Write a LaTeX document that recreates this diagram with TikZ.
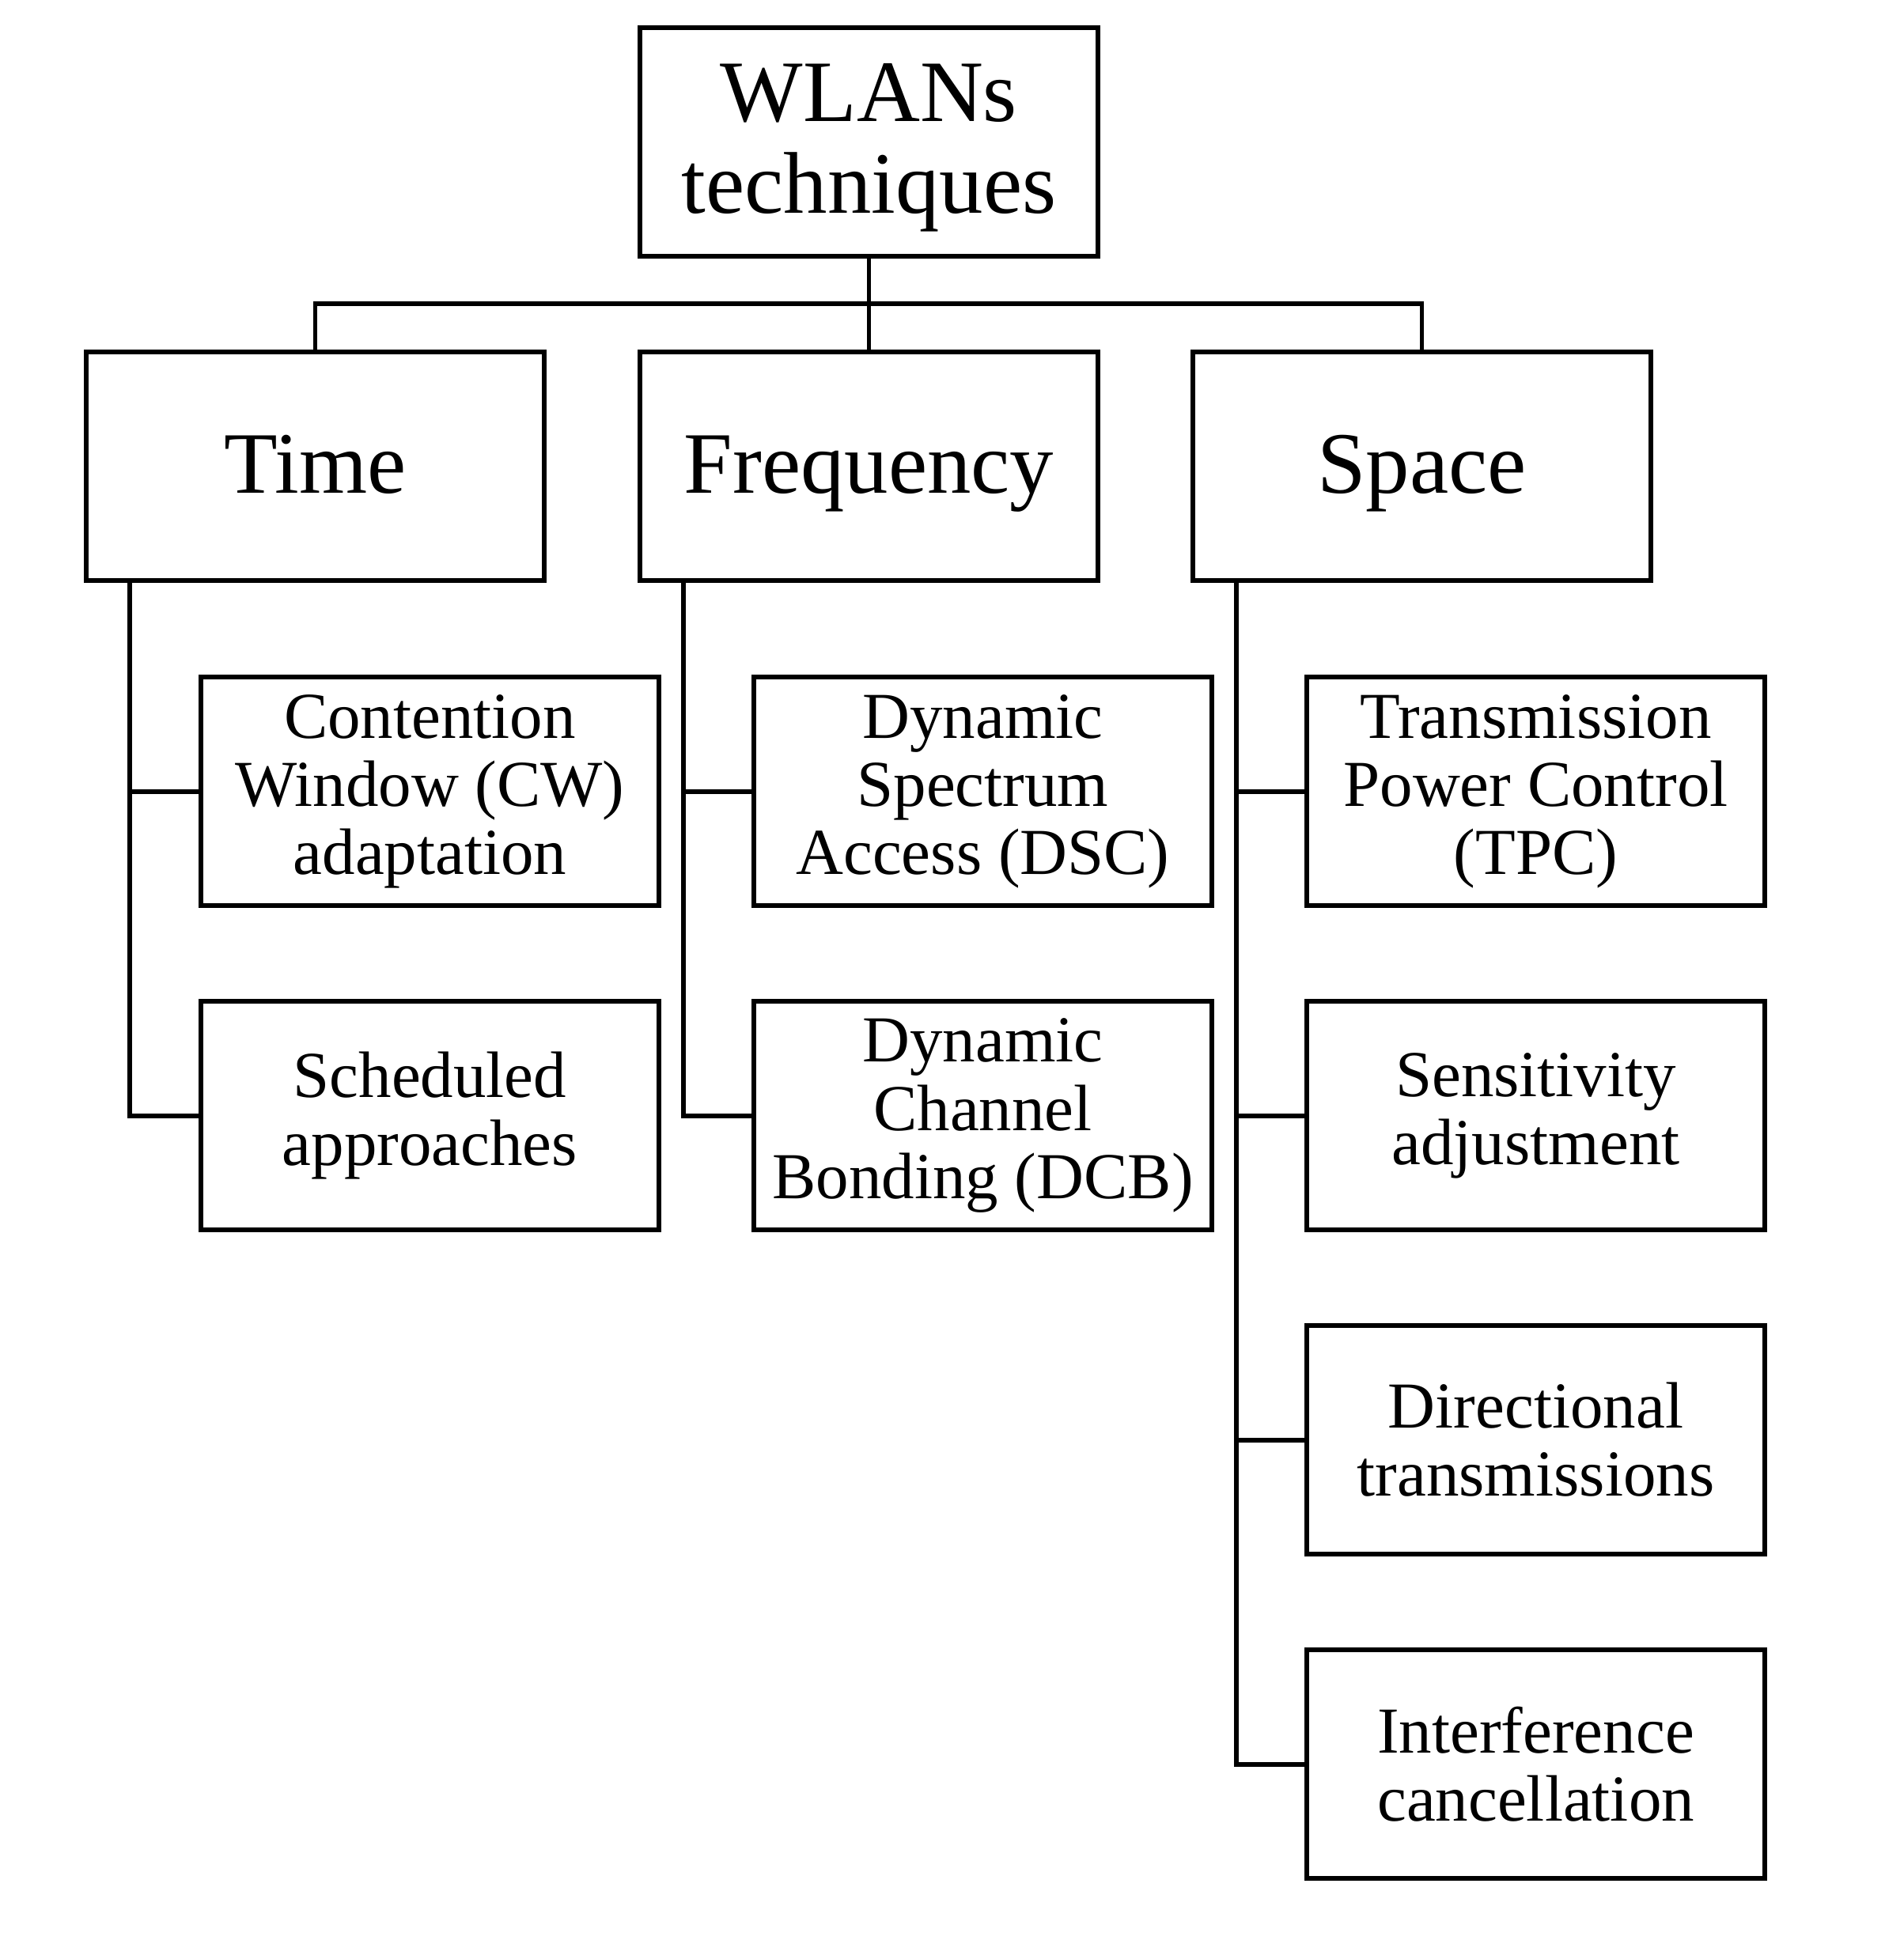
\documentclass[tikz,border=0pt]{standalone}
\usepackage{fontspec}
\setmainfont{Liberation Serif}
\usetikzlibrary{calc}

\begin{document}
\begin{tikzpicture}[line width=1.7pt,
    box/.style={draw,rectangle,inner sep=0,minimum width=5.79cm,minimum height=2.89cm,align=center},
    bigbox/.style={box,font=\fontsize{31.5}{33}\selectfont},
    lvlbox/.style={bigbox,text height=0.9cm,text depth=0.22cm},
    smallbox/.style={box,font=\fontsize{23.6}{24.5}\selectfont}]
    \useasboundingbox (0,0) rectangle (24.07,-24.58);
    % root and the three domains
    \path (10.985,-1.79) node [bigbox,text depth=0.08cm](wlan){WLANs\\techniques};
    \path (3.985,-5.895) node [lvlbox](time){Time};
    \path (10.985,-5.895) node [lvlbox](freq){Frequency};
    \path (17.975,-5.895) node [lvlbox](space){Space};
    % techniques per domain
    \path (5.435,-10.005) node [smallbox](cw){Contention\\Window (CW)\\adaptation};
    \path (5.435,-14.105) node [smallbox](sched){Scheduled\\approaches};
    \path (12.425,-10.005) node [smallbox](dsa){Dynamic\\Spectrum\\Access (DSC)};
    \path (12.425,-14.105) node [smallbox](dcb){Dynamic\\Channel\\Bonding (DCB)};
    \path (19.415,-10.005) node [smallbox](tpc){Transmission\\Power Control\\(TPC)};
    \path (19.415,-14.105) node [smallbox](sens){Sensitivity\\adjustment};
    \path (19.415,-18.205) node [smallbox](dir){Directional\\transmissions};
    \path (19.415,-22.305) node [smallbox](ic){Interference\\cancellation};
    % tree connectors
    \coordinate (bar) at ($(wlan.south)!0.5!(freq.north)$);
    \draw (wlan.south) -- (freq.north);
    \draw (time.north) |- (bar) -| (space.north);
    \coordinate (ttime) at ([xshift=0.58cm]time.south west);
    \coordinate (tfreq) at ([xshift=0.58cm]freq.south west);
    \coordinate (tspace) at ([xshift=0.58cm]space.south west);
    \draw (ttime) |- (sched.west);
    \draw (cw.west) -- (cw.west -| ttime);
    \draw (tfreq) |- (dcb.west);
    \draw (dsa.west) -- (dsa.west -| tfreq);
    \draw (tspace) |- (ic.west);
    \draw (tpc.west) -- (tpc.west -| tspace);
    \draw (sens.west) -- (sens.west -| tspace);
    \draw (dir.west) -- (dir.west -| tspace);
  \end{tikzpicture}
\end{document}
